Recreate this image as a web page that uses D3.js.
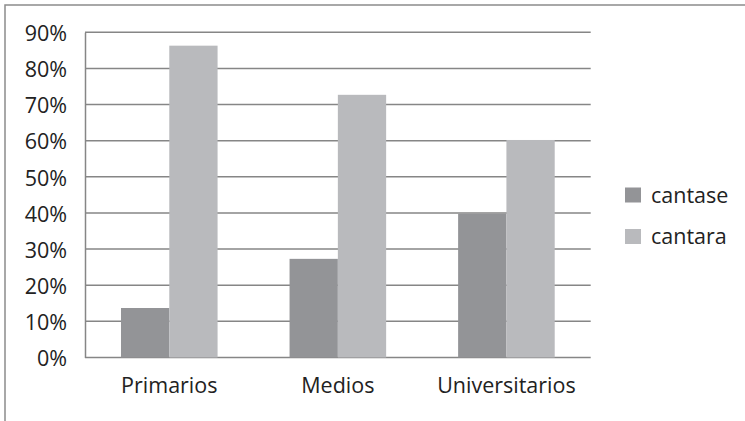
<!DOCTYPE html>
<html lang="es">
<head>
<meta charset="UTF-8">
<title>cantase / cantara</title>
<script src="https://cdnjs.cloudflare.com/ajax/libs/d3/7.8.5/d3.min.js"></script>
<style>
  body { margin: 0; background: #fff; font-family: "Open Sans", sans-serif; }
  text { fill: #222; }
</style>
</head>
<body>
<div id="chart"></div>
<script>
// data
var categories = ["Primarios", "Medios", "Universitarios"];
var seriesNames = ["cantase", "cantara"];
var cantase = [0.137, 0.273, 0.398];
var cantara = [0.863, 0.727, 0.602];
var yTicks = [0, 0.1, 0.2, 0.3, 0.4, 0.5, 0.6, 0.7, 0.8, 0.9];

var colors = { cantase: "#939497", cantara: "#b9babd" };

var W = 745, H = 421;
var margin = { top: 32.3, left: 85, right: 154.3, bottom: 63.5 };
var width = W - margin.left - margin.right,
    height = H - margin.top - margin.bottom;

var svg = d3.select("#chart").append("svg")
    .attr("width", W)
    .attr("height", H);

// outer frame (runs off the right and bottom edges)
svg.append("rect")
    .attr("x", 5).attr("y", 5)
    .attr("width", W + 20).attr("height", H + 20)
    .attr("fill", "none")
    .attr("stroke", "#8c8c8c")
    .attr("stroke-width", 1.5);

var g = svg.append("g")
    .attr("transform", "translate(" + margin.left + "," + margin.top + ")");

var x0 = d3.scaleBand()
    .domain(categories)
    .range([0, width]);

var x1 = d3.scaleBand()
    .domain(seriesNames)
    .range([x0.bandwidth() * 0.2135, x0.bandwidth() * 0.7865]);

var y = d3.scaleLinear()
    .domain([0, 0.9])
    .range([height, 0]);

// gridlines
g.append("g")
    .selectAll("line")
    .data(yTicks)
    .enter().append("line")
    .attr("x1", 0).attr("x2", width)
    .attr("y1", function(d) { return y(d); })
    .attr("y2", function(d) { return y(d); })
    .attr("stroke", "#868686")
    .attr("stroke-width", 1.5);

// bars
var rows = categories.map(function(c, i) {
    return { cat: c, values: [
        { key: "cantase", value: cantase[i] },
        { key: "cantara", value: cantara[i] }
    ] };
});

g.append("g")
    .selectAll("g")
    .data(rows)
    .enter().append("g")
    .attr("transform", function(d) { return "translate(" + x0(d.cat) + ",0)"; })
    .selectAll("rect")
    .data(function(d) { return d.values; })
    .enter().append("rect")
    .attr("x", function(d) { return x1(d.key); })
    .attr("width", x1.bandwidth())
    .attr("y", function(d) { return y(d.value); })
    .attr("height", function(d) { return height - y(d.value); })
    .attr("fill", function(d) { return colors[d.key]; });

// y axis
var yAxis = g.append("g")
    .call(d3.axisLeft(y).tickValues(yTicks).tickSize(0).tickPadding(18)
        .tickFormat(d3.format(".0%")));
yAxis.select(".domain").attr("stroke", "#868686").attr("stroke-width", 1.5);
yAxis.selectAll("text")
    .style("font-family", "'Open Sans', sans-serif")
    .style("font-size", "21.5px")
    .attr("fill", "#222")
    .attr("dy", "0.38em");

// x axis labels
var xAxis = g.append("g")
    .attr("transform", "translate(0," + height + ")")
    .call(d3.axisBottom(x0).tickSize(0).tickPadding(20));
xAxis.select(".domain").remove();
xAxis.selectAll("text")
    .style("font-family", "'Open Sans', sans-serif")
    .style("font-size", "21.5px")
    .attr("fill", "#222");

// legend
var legend = svg.append("g")
    .selectAll("g")
    .data(seriesNames)
    .enter().append("g")
    .attr("transform", function(d, i) { return "translate(625," + (187.5 + i * 41.5) + ")"; });

legend.append("rect")
    .attr("width", 16)
    .attr("height", 15)
    .attr("fill", function(d) { return colors[d]; });

legend.append("text")
    .attr("x", 26)
    .attr("y", 7.5)
    .attr("dy", "0.35em")
    .style("font-size", "21.5px")
    .text(function(d) { return d; });
</script>
</body>
</html>
